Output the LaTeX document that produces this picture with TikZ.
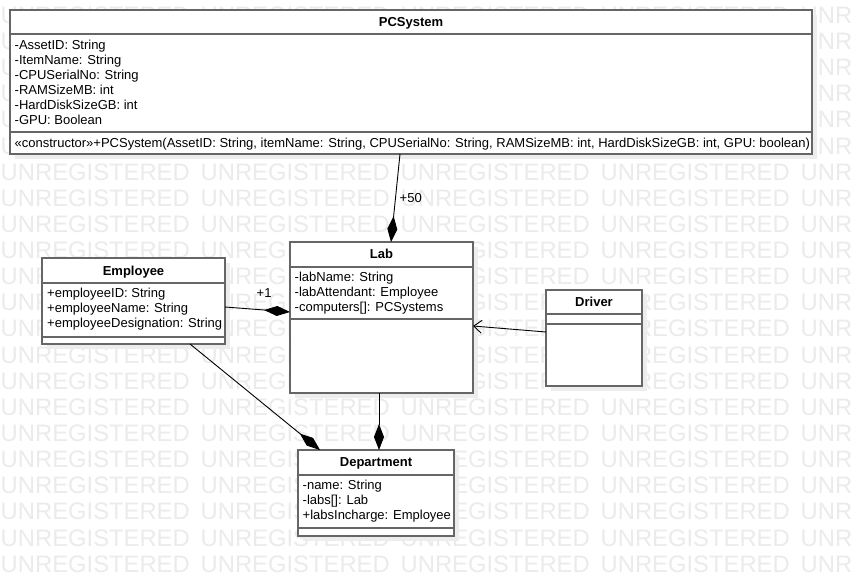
\documentclass[tikz,border=0pt]{standalone}
\usepackage{fontspec}
\setmainfont{Liberation Sans}
\usetikzlibrary{arrows.meta,calc,shadows}
\tikzset{
  boxline/.style={draw=black!60, line width=1.3pt},
  classbox/.style={boxline, fill=white, anchor=north west, inner sep=0pt, outer sep=0pt,
    drop shadow={shadow xshift=5pt, shadow yshift=-5pt, fill=black!7, opacity=1}},
  txt/.style={font=\fontsize{13}{15}\selectfont, inner sep=0pt, anchor=base west},
  ttl/.style={font=\fontsize{13}{15}\selectfont\bfseries, inner sep=0pt, anchor=base},
  wm/.style={font=\fontsize{23.8}{26}\selectfont, text=black!8, inner sep=0pt, anchor=base west},
  conn/.style={draw=black, line width=0.9pt},
  comp/.style={conn, -{Diamond[length=26pt,width=10pt]}},
  assoc/.style={conn, -{Straight Barb[length=8pt,width=13pt]}},
  lbl/.style={font=\fontsize{13}{15}\selectfont, inner sep=0pt, anchor=base west},
}
\begin{document}
\begin{tikzpicture}[x=1pt,y=-1pt]
\useasboundingbox (0,0) rectangle (851,577);
\fill[white] (0,0) rectangle (851,577);
% watermark
\begin{scope}
\clip (0,0) rectangle (851,577);
\foreach \k in {0,...,21}{
  \node[wm] (wm\k) at (0.5,{15+26.13*\k+8.4}) {\makebox[200pt][l]{UNREGISTERED}\makebox[200pt][l]{UNREGISTERED}\makebox[200pt][l]{UNREGISTERED}\makebox[200pt][l]{UNREGISTERED}\makebox[200pt][l]{UNREGISTERED}};
}
\end{scope}

% PCSystem
\node[classbox, minimum width=802pt, minimum height=144pt] (pc) at (10,10) {};
\draw[boxline] ($(pc.north west)+(0,24)$) -- ($(pc.north east)+(0,24)$);
\draw[boxline] ($(pc.north west)+(0,122)$) -- ($(pc.north east)+(0,122)$);
\node[ttl] (pct) at (411,26.5) {PCSystem};
\node[txt] (pca1) at (14.5,50) {-AssetID: String};
\node[txt] (pca2) at (14.5,65) {-ItemName: String};
\node[txt] (pca3) at (14.5,80) {-CPUSerialNo: String};
\node[txt] (pca4) at (14.5,95) {-RAMSizeMB: int};
\node[txt] (pca5) at (14.5,110) {-HardDiskSizeGB: int};
\node[txt] (pca6) at (14.5,125) {-GPU: Boolean};
\node[txt] (pcm1) at (14.5,147.5) {«constructor»+PCSystem(AssetID: String, itemName: String, CPUSerialNo: String, RAMSizeMB: int, HardDiskSizeGB: int, GPU: boolean)};

% Lab
\node[classbox, minimum width=183pt, minimum height=151pt] (lab) at (290,242) {};
\draw[boxline] ($(lab.north west)+(0,25)$) -- ($(lab.north east)+(0,25)$);
\draw[boxline] ($(lab.north west)+(0,77)$) -- ($(lab.north east)+(0,77)$);
\node[ttl] (labt) at (381.5,258.5) {Lab};
\node[txt] (laba1) at (294.5,281.5) {-labName: String};
\node[txt] (laba2) at (294.5,296.5) {-labAttendant: Employee};
\node[txt] (laba3) at (294.5,311.5) {-computers[]: PCSystems};

% Employee
\node[classbox, minimum width=183pt, minimum height=86pt] (emp) at (42,258) {};
\draw[boxline] ($(emp.north west)+(0,25)$) -- ($(emp.north east)+(0,25)$);
\draw[boxline] ($(emp.north west)+(0,79)$) -- ($(emp.north east)+(0,79)$);
\node[ttl] (empt) at (133.5,275.5) {Employee};
\node[txt] (empa1) at (47,297.5) {+employeeID: String};
\node[txt] (empa2) at (47,312.5) {+employeeName: String};
\node[txt] (empa3) at (47,327.5) {+employeeDesignation: String};

% Department
\node[classbox, minimum width=156pt, minimum height=86pt] (dep) at (298,450) {};
\draw[boxline] ($(dep.north west)+(0,25)$) -- ($(dep.north east)+(0,25)$);
\draw[boxline] ($(dep.north west)+(0,78)$) -- ($(dep.north east)+(0,78)$);
\node[ttl] (dept) at (376,466.5) {Department};
\node[txt] (depa1) at (302.5,489.5) {-name: String};
\node[txt] (depa2) at (302.5,504.5) {-labs[]: Lab};
\node[txt] (depa3) at (302.5,519.5) {+labsIncharge: Employee};

% Driver
\node[classbox, minimum width=96pt, minimum height=96pt] (drv) at (546,290) {};
\draw[boxline] ($(drv.north west)+(0,24)$) -- ($(drv.north east)+(0,24)$);
\draw[boxline] ($(drv.north west)+(0,34)$) -- ($(drv.north east)+(0,34)$);
\node[ttl] (drvt) at (594,306.5) {Driver};

% connectors
\draw[comp] ($(pc.south west)+(390,0)$) -- ($(lab.north west)+(101,0)$);
\draw[comp] ($(emp.north east)+(0,49)$) -- ($(lab.north west)+(0,70)$);
\draw[comp] ($(emp.south west)+(148,0)$) -- ($(dep.north west)+(22,0)$);
\draw[comp] ($(lab.south west)+(89,0)$) -- ($(dep.north west)+(81,0)$);
\draw[assoc] ($(drv.north west)+(0,42)$) -- ($(lab.north east)+(0,84)$);
\node[lbl] (l50) at (399.5,202.5) {+50};
\node[lbl] (l1) at (256.5,297.5) {+1};
\end{tikzpicture}
\end{document}
